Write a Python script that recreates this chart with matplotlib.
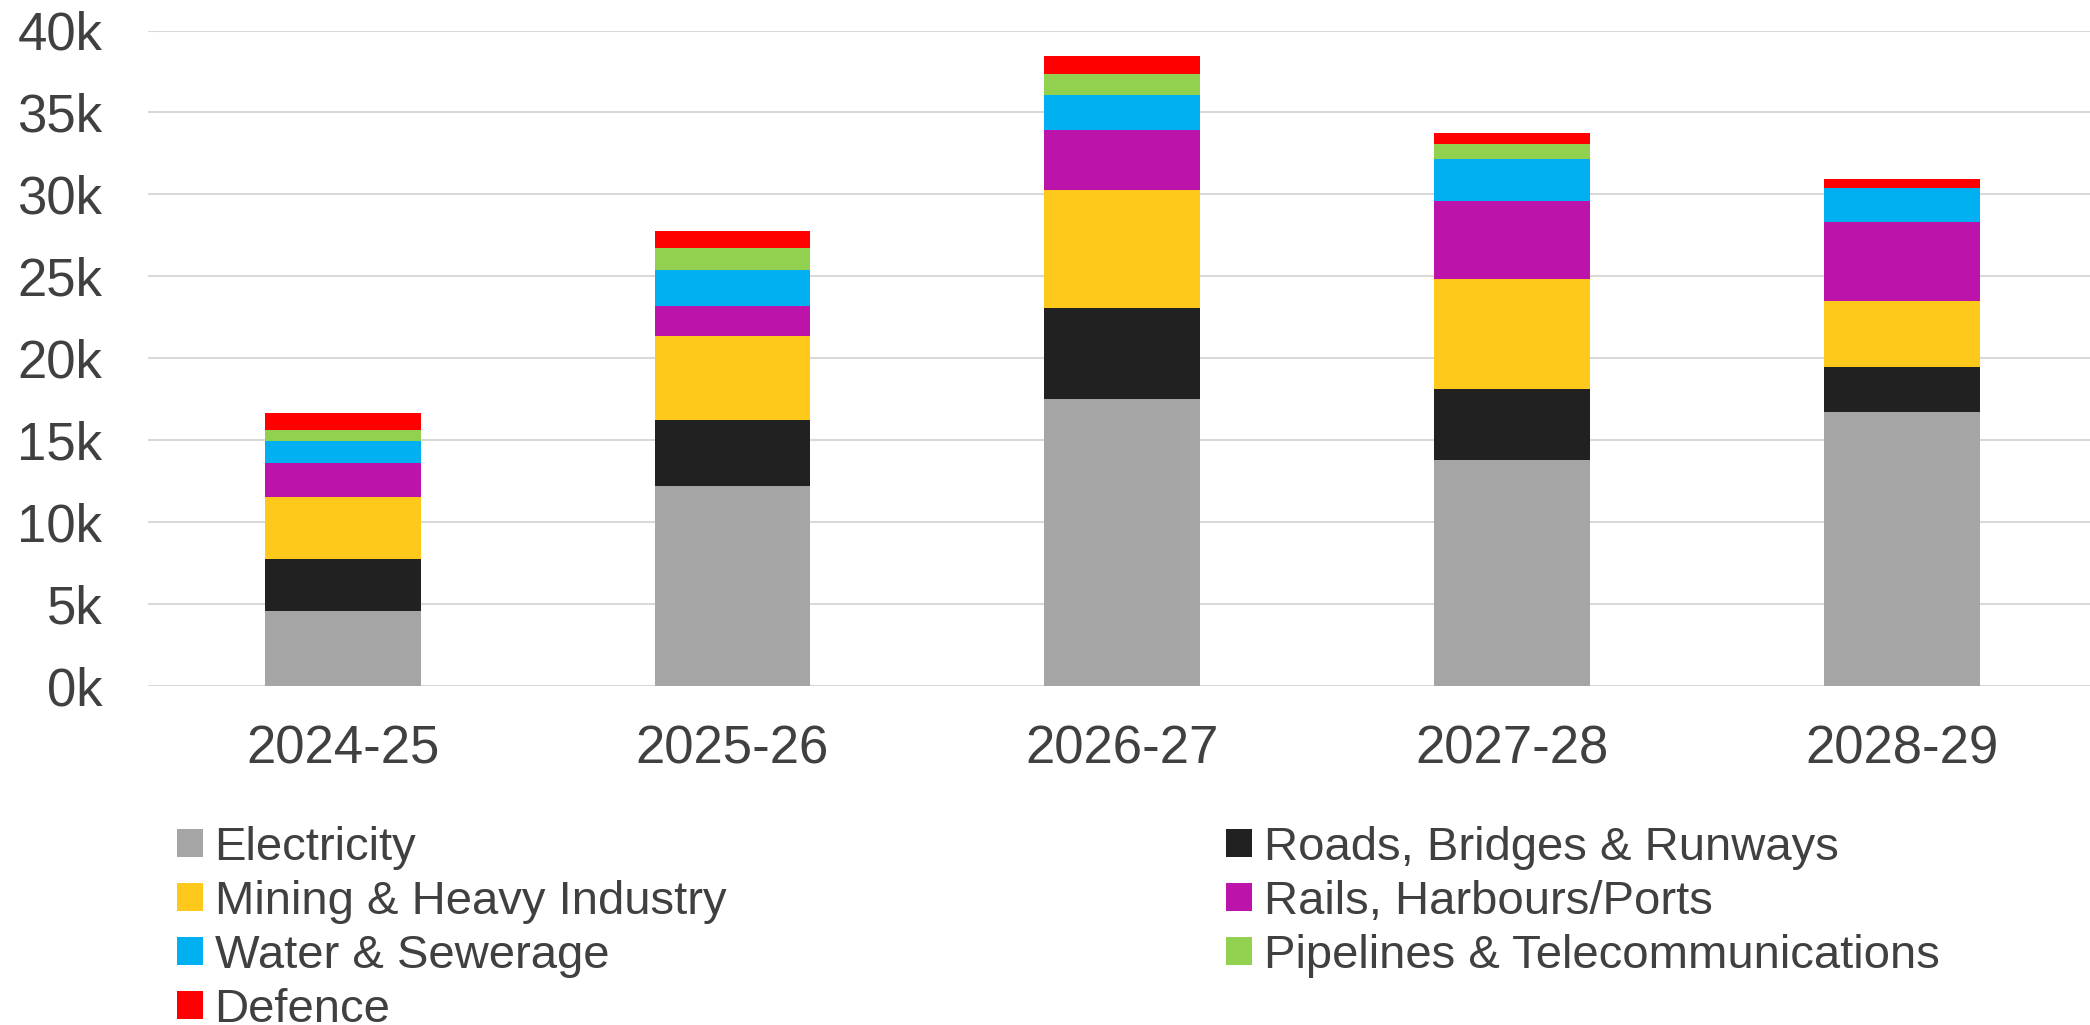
import matplotlib
matplotlib.use("Agg")
import matplotlib.pyplot as plt
from matplotlib.patches import Patch
from matplotlib.ticker import FuncFormatter, MultipleLocator
import numpy as np

plt.rcParams['font.family'] = ['Liberation Sans', 'DejaVu Sans']

years = ['2024-25', '2025-26', '2026-27', '2027-28', '2028-29']

electricity = [4570, 12180, 17540, 13800, 16690]
roads = [3170, 4080, 5530, 4330, 2780]
mining = [3800, 5100, 7170, 6690, 4020]
rails = [2080, 1830, 3680, 4750, 4800]
water = [1340, 2190, 2140, 2580, 2080]
pipelines = [670, 1370, 1300, 920, 0]
defence = [1000, 1040, 1090, 690, 590]

series = [
    ('Electricity', electricity, '#A5A5A5'),
    ('Roads, Bridges & Runways', roads, '#212121'),
    ('Mining & Heavy Industry', mining, '#FFC91B'),
    ('Rails, Harbours/Ports', rails, '#BC14AA'),
    ('Water & Sewerage', water, '#00B0F0'),
    ('Pipelines & Telecommunications', pipelines, '#92D050'),
    ('Defence', defence, '#FF0000'),
]

W, H = 2090, 1025
fig = plt.figure(figsize=(W / 100, H / 100), dpi=100)
ax = fig.add_axes([148 / W, (H - 686) / H, (W - 148) / W, (686 - 30.5) / H])

x = np.arange(len(years))
bottom = np.zeros(len(years))
handles = {}
for name, vals, col in series:
    vals = np.array(vals, dtype=float)
    ax.bar(x, vals, 0.40, bottom=bottom, color=col, linewidth=0, zorder=3)
    bottom += vals
    handles[name] = Patch(facecolor=col, edgecolor='none')

ax.set_ylim(0, 40000)
ax.set_xlim(-0.5, -0.5 + (W - 148) / 389.7)
ax.yaxis.set_major_locator(MultipleLocator(5000))
ax.yaxis.set_major_formatter(FuncFormatter(lambda v, p: f'{v / 1000:.0f}k'))
ax.grid(axis='y', color='#D9D9D9', linewidth=1.5, zorder=0)
for s in ax.spines.values():
    s.set_visible(False)
ax.set_xticks(x)
ax.set_xticklabels(years)
ax.tick_params(axis='both', length=0, labelsize=38, labelcolor='#404040')
ax.tick_params(axis='y', pad=33)
ax.tick_params(axis='x', pad=28)

# legend in two columns, filled row by row
left_col = ['Electricity', 'Mining & Heavy Industry', 'Water & Sewerage', 'Defence']
right_col = ['Roads, Bridges & Runways', 'Rails, Harbours/Ports',
             'Pipelines & Telecommunications']
legend_kw = dict(loc='upper left', frameon=False, fontsize=34,
                 handlelength=0.545, handleheight=0.545, handletextpad=0.25,
                 labelspacing=0.21, borderpad=0, borderaxespad=0,
                 labelcolor='#404040')
for names, xpix in [(left_col, 177), (right_col, 1226)]:
    fig.legend([handles[n] for n in names], names,
               bbox_to_anchor=(xpix / W, (H - 826) / H), **legend_kw)

fig.savefig('out.png', dpi=100)
